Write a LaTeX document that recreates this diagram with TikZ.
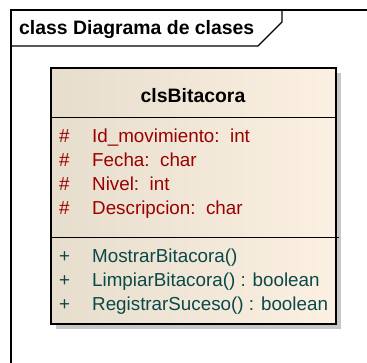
\documentclass[tikz,border=0pt]{standalone}
\usepackage{fontspec}
\setmainfont{Liberation Sans}
\usepackage{xcolor}
\usepackage{tikz}
\usetikzlibrary{positioning, calc, shadows}
\definecolor{attrred}{HTML}{990000}
\definecolor{opteal}{HTML}{0B4848}
\definecolor{classleft}{HTML}{E7DDCD}
\definecolor{classright}{HTML}{FBF0E1}
\newcommand{\umlsize}{\fontsize{19.4}{23}\selectfont}
\newcommand{\umltext}{\fontsize{18.8}{23}\selectfont}
\tikzset{
  umlframe/.style={draw, line width=1.2pt, black},
  umlclass/.style={
    draw, line width=1.5pt, inner sep=0pt,
    left color=classleft, middle color=classright, right color=classright,
    drop shadow={shadow xshift=5pt, shadow yshift=-5pt,
      fill=black!22, opacity=1}
  },
  umldivider/.style={line width=1.3pt, black},
  framelabel/.style={
    font=\umlsize\bfseries, anchor=base west, inner sep=0pt
  },
  classname/.style={
    font=\umlsize\bfseries, anchor=base, inner sep=0pt
  },
  attrmark/.style={
    font=\umltext, text=attrred, anchor=base west, inner sep=0pt
  },
  opmark/.style={
    font=\umltext, text=opteal, anchor=base west, inner sep=0pt
  },
}

\begin{document}
\begin{tikzpicture}[x=1pt, y=-1pt]
  \useasboundingbox (0, 0) rectangle (367, 363);
  \clip (0, 0) rectangle (367, 363);
  \fill[white] (0, 0) rectangle (367, 363);

  % Frame with its name tab
  \draw[umlframe] (11, 400) -- (11, 10) -- (400, 10);
  \draw[umlframe] (11, 46) -- (258, 46) -- (282, 22) -- (282, 10);
  \node[framelabel] (framename) at (19, 35) {class Diagrama de clases};

  % Class box
  \node[umlclass, minimum width=285pt, minimum height=256pt]
    (bitacora) at (193.5, 196) {};
  \draw[umldivider] ($(bitacora.north west) + (0, 50)$) coordinate (headsplit)
    -- ($(bitacora.north east) + (0, 50)$);
  \draw[umldivider] ($(bitacora.north west) + (0, 170)$) coordinate (opsplit)
    -- ($(bitacora.north east) + (2, 170)$);
  \node[classname] (clsname) at (193, 103) {clsBitacora};

  % Attributes
  \node[attrmark] (attr1mark) at (59, 143) {\#};
  \node[attrmark] (attr1) at (92, 143) {Id\_movimiento:~~int};
  \node[attrmark] (attr2mark) at (59, 167) {\#};
  \node[attrmark] (attr2) at (92, 167) {Fecha:~~char};
  \node[attrmark] (attr3mark) at (59, 191) {\#};
  \node[attrmark] (attr3) at (92, 191) {Nivel:~~int};
  \node[attrmark] (attr4mark) at (59, 215) {\#};
  \node[attrmark] (attr4) at (92, 215) {Descripcion:~~char};

  % Operations
  \node[opmark] (op1mark) at (59, 263) {+};
  \node[opmark] (op1) at (92, 263) {MostrarBitacora()};
  \node[opmark] (op2mark) at (59, 287) {+};
  \node[opmark] (op2) at (92, 287) {LimpiarBitacora() : boolean};
  \node[opmark] (op3mark) at (59, 311) {+};
  \node[opmark] (op3) at (92, 311) {RegistrarSuceso() : boolean};
\end{tikzpicture}
\end{document}
